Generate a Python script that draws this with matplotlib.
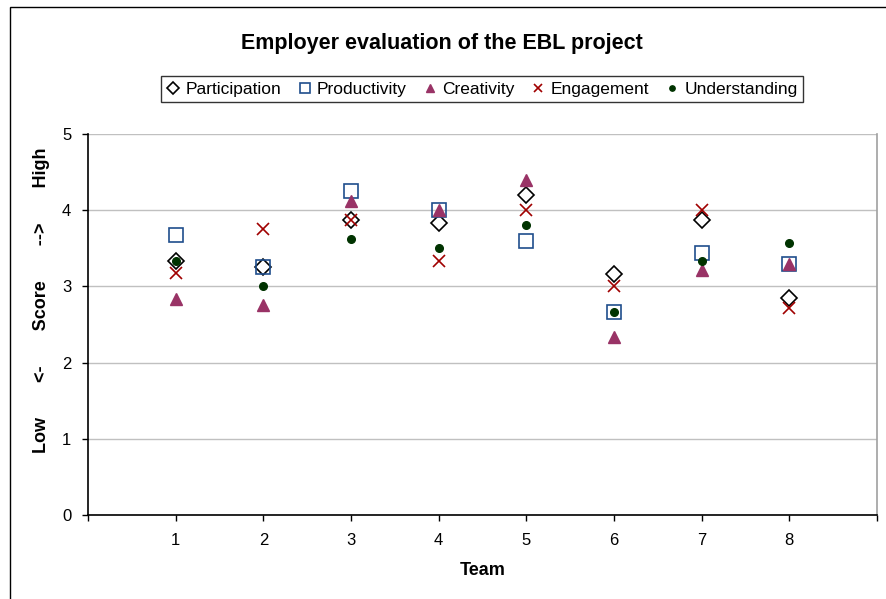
import matplotlib
matplotlib.use("Agg")
import matplotlib.pyplot as plt
from matplotlib.patches import Rectangle

plt.rcParams['font.family'] = ['Liberation Sans', 'DejaVu Sans']

teams = [1, 2, 3, 4, 5, 6, 7, 8]
participation = [3.33, 3.25, 3.87, 3.83, 4.20, 3.16, 3.87, 2.85]
productivity = [3.67, 3.25, 4.25, 4.00, 3.60, 2.67, 3.44, 3.29]
creativity = [2.83, 2.75, 4.12, 4.00, 4.40, 2.33, 3.22, 3.29]
engagement = [3.17, 3.75, 3.87, 3.33, 4.00, 3.00, 4.00, 2.71]
understanding = [3.33, 3.00, 3.62, 3.50, 3.80, 2.67, 3.33, 3.57]

fig = plt.figure(figsize=(8.86, 5.99), dpi=100)
ax = fig.add_axes([88/886, 1-515/599, (877-88)/886, (515-134)/599])

ax.plot(teams, participation, linestyle='none', marker='D', markersize=8.5,
        markerfacecolor='white', markeredgecolor='black', markeredgewidth=1.2,
        label='Participation', zorder=3)
ax.plot(teams, productivity, linestyle='none', marker='s', markersize=10,
        markerfacecolor='none', markeredgecolor='#1F4E8C', markeredgewidth=1.2,
        label='Productivity', zorder=3)
ax.plot(teams, creativity, linestyle='none', marker='^', markersize=8,
        markerfacecolor='#993366', markeredgecolor='#993366',
        label='Creativity', zorder=3)
ax.plot(teams, engagement, linestyle='none', marker='x', markersize=9,
        markeredgecolor='#A00000', markeredgewidth=1.2,
        label='Engagement', zorder=3)
ax.plot(teams, understanding, linestyle='none', marker='o', markersize=5.5,
        markerfacecolor='#003300', markeredgecolor='#003300',
        label='Understanding', zorder=3)

ax.set_xlim(0, 9)
ax.set_ylim(0, 5)
ax.set_xticks(range(0, 10))
ax.set_xticklabels([''] + [str(t) for t in teams] + [''])
ax.set_yticks(range(0, 6))
ax.yaxis.grid(True, color='#c0c0c0', linewidth=1)
ax.set_axisbelow(True)
ax.tick_params(axis='both', direction='out', length=4, width=1, labelsize=12,
               color='black')
ax.tick_params(axis='x', pad=9)
ax.tick_params(axis='y', pad=8)
for s in ['left', 'bottom']:
    ax.spines[s].set_color('black')
    ax.spines[s].set_linewidth(1.2)
ax.spines['top'].set_visible(False)
ax.spines['right'].set_color('#a0a0a0')
ax.spines['right'].set_linewidth(1.2)

ax.set_xlabel('Team', fontsize=13, fontweight='bold', labelpad=10)

fig.text(42/886, 1-300/599, 'Low       <-       Score       -->       High',
         rotation=90, ha='center', va='center', fontsize=13, fontweight='bold')

fig.text(442/886, 1-44/599, 'Employer evaluation of the EBL project',
         ha='center', va='center', fontsize=15.5, fontweight='bold')

leg = ax.legend(loc='center', bbox_to_anchor=(482/886, 1-89/599), bbox_transform=fig.transFigure,
                ncol=5, frameon=True, fancybox=False, fontsize=12.5,
                markerscale=0.7, handlelength=0.8, handletextpad=0.3,
                columnspacing=0.95, borderpad=0.3, borderaxespad=0)
leg.get_frame().set_edgecolor('black')
leg.get_frame().set_linewidth(1)

fig.patches.append(Rectangle((10/886, -0.1), 2, 1-7/599+0.1, fill=False,
                             edgecolor='black', linewidth=1,
                             transform=fig.transFigure, figure=fig))

fig.savefig('out.png', dpi=100)
